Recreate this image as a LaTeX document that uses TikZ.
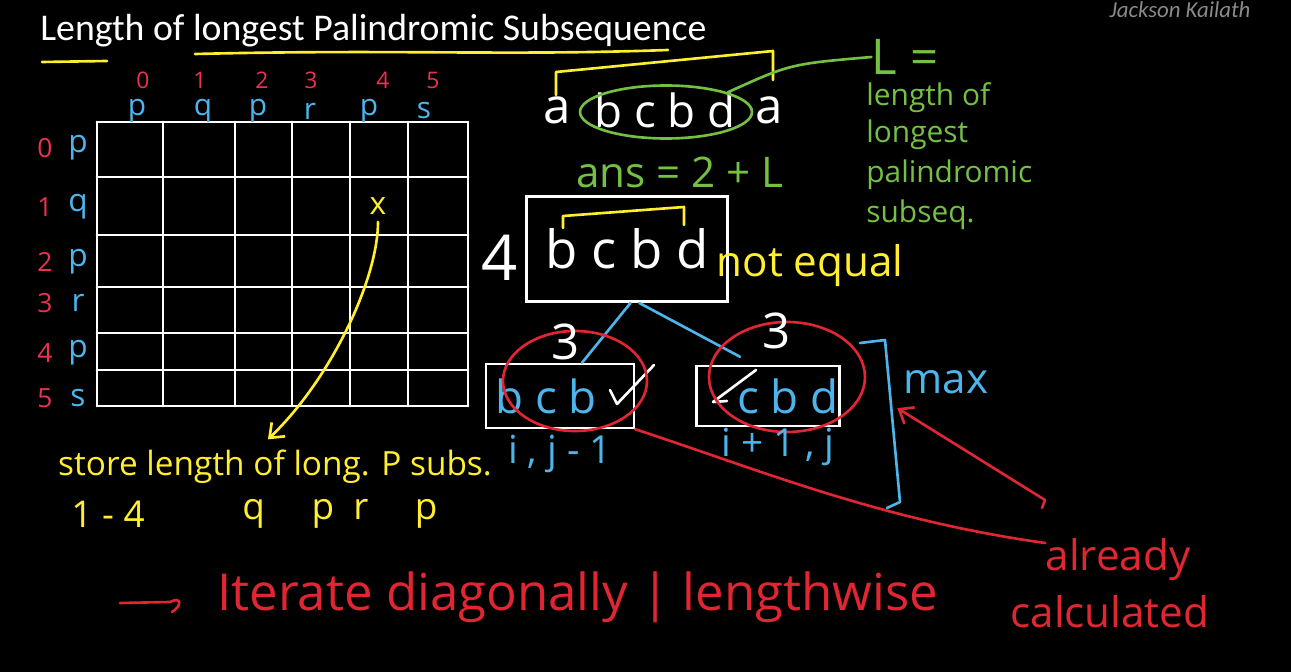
\documentclass[tikz,border=0pt]{standalone}
\usepackage{fontspec}
\setmainfont{Carlito}
\newfontfamily\mano{Open Sans}
\usetikzlibrary{positioning, arrows.meta, shapes.geometric, calc}
\definecolor{giallo}{HTML}{FFEF2E}
\definecolor{verde}{HTML}{74C043}
\definecolor{blu}{HTML}{4DB5EC}
\definecolor{rosso}{HTML}{E02632}
\definecolor{rossonum}{HTML}{EE3152}
\definecolor{grigio}{HTML}{8A8A8A}

\begin{document}
\begin{tikzpicture}[x=0.02cm, y=-0.02cm]
    % Stili per gesso, penna e scritte a mano
    \tikzset{
        gesso/.style={draw=white, line width=1.7pt, line cap=round, line join=round},
        penna/.style={line width=1.5pt, line cap=round, line join=round},
        scritta/.style={font=\mano\fontsize{#1}{#1}\selectfont, inner sep=0pt},
        punta/.style={-{Straight Barb[length=7pt, width=11pt]}}
    }

    % --- Lavagna ---
    \fill[black] (0,0) rectangle (1291,672);
    \useasboundingbox (0,0) rectangle (1291,672);

    % --- Titolo ---
    \node[anchor=west, text=white, inner sep=0pt, font=\fontsize{21.5}{21.5}\selectfont] (titolo) at (40,31)
        {Length of longest Palindromic Subsequence};
    \node[text=grigio, inner sep=0pt, font=\itshape\fontsize{13}{13}\selectfont] (firma) at (1180,10) {Jackson Kailath};
    \draw[penna, giallo] (42,62) -- (107,61);
    \draw[penna, giallo] (195,54) .. controls (400,49) and (500,56) .. (668,50);

    % --- Tabella dp ---
    \foreach \c in {97,163,235,292,350,408,468}
        \draw[gesso] (\c,122) -- (\c,406);
    \foreach \r in {122,177,235,287,333,370,406}
        \draw[gesso] (97,\r) -- (468,\r);

    % indici e lettere di colonna
    \foreach \x/\n/\lx/\l in {143/0/137/p, 200/1/203/q, 262/2/258/p, 311/3/310/r, 383/4/369/p, 433/5/424/s} {
        \node[scritta=13, text=rossonum] (ncol\n) at (\x,80) {\n};
        \node[scritta=17, text=blu] (lcol\n) at (\lx,111) {\l};
    }
    % indici e lettere di riga
    \foreach \y/\n/\l in {148/0/p, 207/1/q, 262/2/p, 303/3/r, 353/4/p, 398/5/s} {
        \node[scritta=15, text=rossonum] (nrig\n) at (45,\y) {\n};
        \node[scritta=18, text=blu] (lrig\n) at (78,\y) {\l};
    }

    % cella (1,4) e freccia verso la spiegazione
    \node[scritta=18, text=giallo] (croce) at (378,206) {x};
    \node[scritta=19, text=giallo] (memo) at (275,467) {store length of long. P subs.};
    \draw[penna, giallo, punta] ([yshift=-4pt]croce.south) .. controls (378,280) and (330,380) .. ([xshift=-4pt, yshift=6pt]memo.north);
    \node[scritta=21, text=giallo] (intervallo) at (108,514) {1 - 4};
    \node[scritta=21, text=giallo] (sottostr) at (340,514) {q \quad p\ \ r \quad p};

    % --- Stringa esterna ---
    \node[scritta=28, text=white] (aSx) at (557,110) {a};
    \node[scritta=26, text=white] (centro) at (665,110) {b c b d};
    \node[scritta=28, text=white] (aDx) at (769,110) {a};
    \draw[penna, giallo] (556,95) -- (556,72) -- (773,51) -- (773,80);
    \node[draw=verde, line width=1.5pt, ellipse, minimum width=3.44cm, minimum height=1.06cm] (giro) at (666,112) {};
    \node[scritta=28, text=verde] (elle) at (905,57) {L =};
    \draw[penna, verde] (giro.north east) .. controls (790,64) .. (elle.west);
    \node[text=verde, inner sep=0pt, align=left, anchor=north west, font=\mano\fontsize{17}{21}\selectfont] (definizione) at (866,82)
        {length of\\ longest\\[2pt] palindromic\\[2pt] subseq.};
    \node[scritta=24, text=verde] (risposta) at (680,172) {ans = 2 + L};

    % --- Sottoproblema ---
    \node[draw=white, line width=1.7pt, minimum width=4.02cm, minimum height=2.1cm, scritta=30, text=white] (scatola) at (627,249) {b c b d};
    \draw[penna, giallo] (563,228) -- (563,216) -- (684,207) -- (684,225);
    \node[scritta=36, text=white] (quattro) at (500,258) {4};
    \node[scritta=24, text=giallo] (diverso) at (810,266) {not equal};

    % sottoproblemi piu' piccoli
    \node[draw=white, line width=1.4pt, minimum width=2.96cm, minimum height=1.28cm, scritta=26, text=blu] (sinistra) at (560,396) {b c b\phantom{d}};
    \node[draw=white, line width=1.4pt, minimum width=2.86cm, minimum height=1.2cm, scritta=26, text=blu] (destra) at (768,396) {\phantom{b} c b d};
    \draw[penna, blu] ([xshift=2pt]scatola.south) -- ($(sinistra.north)+(22,0)$);
    \draw[penna, blu] ([xshift=7pt]scatola.south) -- ($(destra.north)+(-28,-8)$);
    \draw[penna, white] (610,390) -- (617,404) -- (654,365);
    \draw[penna, white] (756,370) -- (713,402) -- (727,401);
    \draw[penna, rosso] (575,381) ellipse (72 and 50);
    \draw[penna, rosso] (787,377) ellipse (78 and 55);
    \node[scritta=28, text=white] (treSx) at (566,342) {3};
    \node[scritta=28, text=white] (treDx) at (777,331) {3};
    \node[scritta=22, text=blu] (indSx) at (560,454) {i , j - 1};
    \node[scritta=22, text=blu] (indDx) at (778,447) {i + 1 , j};

    % massimo dei due
    \draw[penna, blu] (860,343) -- (885,340) -- (900,502) -- (887,508);
    \node[scritta=24, text=blu] (massimo) at (946,382) {max};

    % --- Gia' calcolati ---
    \node[scritta=24, text=rosso] (gia) at (1118,560) {already};
    \node[scritta=24, text=rosso] (calcolati) at (1110,612) {calculated};
    \draw[penna, rosso] (sinistra.south east) .. controls (760,470) and (880,520) .. (gia.west |- 0,543);
    \coordinate (inizio) at (1045,500);
    \draw[penna, rosso, punta] (1042,508) -- (inizio) -- ($(massimo.south west)+(-6,14)$);

    % --- Ordine di riempimento ---
    \coordinate (codaFreccia) at (120,603);
    \node[scritta=29, text=rosso, anchor=west] (ordine) at (217,597) {Iterate diagonally | lengthwise};
    \draw[penna, rosso] (codaFreccia) -- (170,602) .. controls (182,596) and (182,606) .. (172,612);
\end{tikzpicture}
\end{document}
